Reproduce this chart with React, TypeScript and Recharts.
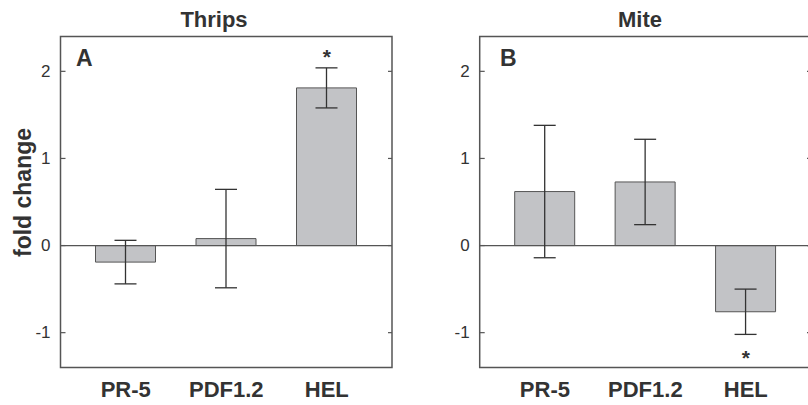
import React from 'react';
import {
  ComposedChart,
  Bar,
  ErrorBar,
  XAxis,
  YAxis,
  ReferenceLine,
  ReferenceArea,
  Scatter,
} from 'recharts';

const categories = ['PR-5', 'PDF1.2', 'HEL'];
const thripsMean = [-0.19, 0.08, 1.81];
const thripsErr = [0.25, 0.565, 0.23];
const thripsStar: (number | null)[] = [null, null, 2.22];
const miteMean = [0.62, 0.73, -0.76];
const miteErr = [0.76, 0.49, 0.26];
const miteStar: (number | null)[] = [null, null, -1.23];
const yTicks = [-1, 0, 1, 2];
const yDomain = [-1.4, 2.4];

const FONT = '"Liberation Sans", Arial, Helvetica, sans-serif';
const TEXT = '#333333';
const LINE = '#555555';
const Y_AXIS_W = 40;
const R_AXIS_W = 12;

const build = (mean: number[], err: number[], star: (number | null)[]) =>
  categories.map((name, i) => ({ name, value: mean[i], err: err[i], star: star[i] }));

const thripsData = build(thripsMean, thripsErr, thripsStar);
const miteData = build(miteMean, miteErr, miteStar);

const makeLeftTick = (edge: number) => (props: any) => {
  const { y, payload } = props;
  return (
    <g>
      <text
        x={edge - 10}
        y={y}
        textAnchor="end"
        dominantBaseline="central"
        fontSize={17}
        fill={TEXT}
        fontFamily={FONT}
      >
        {payload.value}
      </text>
      <line x1={edge} x2={edge + 5} y1={y} y2={y} stroke={LINE} strokeWidth={1.2} />
    </g>
  );
};

const makeRightTick = (edge: number) => (props: any) => {
  const { y } = props;
  return <line x1={edge - 4} x2={edge} y1={y} y2={y} stroke={LINE} strokeWidth={1.2} />;
};

const StarShape = (props: any) => {
  const { cx, cy, payload } = props;
  if (payload == null || payload.star == null || cx == null || cy == null) return <g />;
  return (
    <text x={cx} y={cy + 12} textAnchor="middle" fontSize={21} fontWeight="bold" fill={TEXT} fontFamily={FONT}>
      *
    </text>
  );
};

const Panel = ({ data, width, margin }: { data: any[]; width: number; margin: any }) => {
  const leftEdge = margin.left + Y_AXIS_W;
  const rightEdge = width - margin.right - R_AXIS_W;
  const LeftTick = makeLeftTick(leftEdge);
  const RightTick = makeRightTick(rightEdge);
  return (
    <ComposedChart width={width} height={405} data={data} margin={margin}>
      <XAxis
        dataKey="name"
        padding={{ left: 15, right: 15 }}
        height={30}
        axisLine={false}
        tickLine={false}
        tickSize={0}
        tickMargin={14}
        tick={{ fontSize: 22, fontWeight: 'bold', fill: TEXT, fontFamily: FONT }}
      />
      <XAxis xAxisId="frame" hide />
      <YAxis
        yAxisId="l"
        orientation="left"
        width={Y_AXIS_W}
        domain={yDomain}
        ticks={yTicks}
        axisLine={false}
        tickLine={false}
        tickSize={0}
        tickMargin={10}
        tick={(p: any) => <LeftTick {...p} />}
        allowDataOverflow
      />
      <YAxis
        yAxisId="r"
        orientation="right"
        width={R_AXIS_W}
        domain={yDomain}
        ticks={yTicks}
        axisLine={false}
        tickLine={false}
        tickSize={0}
        tickMargin={0}
        tick={(p: any) => <RightTick {...p} />}
        allowDataOverflow
      />
      <ReferenceLine xAxisId="frame" yAxisId="l" y={0} stroke={LINE} strokeWidth={1.2} />
      <Bar yAxisId="l" dataKey="value" barSize={60} fill="#c2c3c6" stroke={LINE} strokeWidth={1} isAnimationActive={false}>
        <ErrorBar dataKey="err" width={11} stroke={TEXT} strokeWidth={1.3} direction="y" />
      </Bar>
      <Scatter yAxisId="l" dataKey="star" shape={<StarShape />} isAnimationActive={false} />
      <ReferenceArea
        xAxisId="frame"
        yAxisId="l"
        y1={yDomain[0]}
        y2={yDomain[1]}
        fill="none"
        stroke={LINE}
        strokeWidth={1.5}
        ifOverflow="visible"
      />
    </ComposedChart>
  );
};

export default function App() {
  return (
    <div
      style={{
        position: 'absolute',
        left: 0,
        top: 0,
        width: 808,
        height: 405,
        overflow: 'hidden',
        background: '#ffffff',
        fontFamily: FONT,
      }}
    >
      <div style={{ position: 'absolute', left: 0, top: 0 }}>
        <Panel data={thripsData} width={404} margin={{ top: 36.5, right: 0, bottom: 7.5, left: 20.5 }} />
      </div>
      <div style={{ position: 'absolute', left: 404, top: 0 }}>
        <Panel data={miteData} width={420} margin={{ top: 36.5, right: 1, bottom: 7.5, left: 35.7 }} />
      </div>
      <svg width={808} height={405} style={{ position: 'absolute', left: 0, top: 0, pointerEvents: 'none' }}>
        <text x={214} y={26.7} textAnchor="middle" fontSize={22} fontWeight="bold" fill={TEXT} fontFamily={FONT}>
          Thrips
        </text>
        <text x={640} y={26.7} textAnchor="middle" fontSize={22} fontWeight="bold" fill={TEXT} fontFamily={FONT}>
          Mite
        </text>
        <text x={76} y={66} fontSize={23} fontWeight="bold" fill={TEXT} fontFamily={FONT}>
          A
        </text>
        <text x={500} y={66} fontSize={23} fontWeight="bold" fill={TEXT} fontFamily={FONT}>
          B
        </text>
        <text
          x={23}
          y={192.5}
          transform="rotate(-90, 23, 192.5)"
          textAnchor="middle"
          dominantBaseline="central"
          fontSize={23}
          fontWeight="bold"
          fill={TEXT}
          fontFamily={FONT}
        >
          fold change
        </text>
      </svg>
    </div>
  );
}
